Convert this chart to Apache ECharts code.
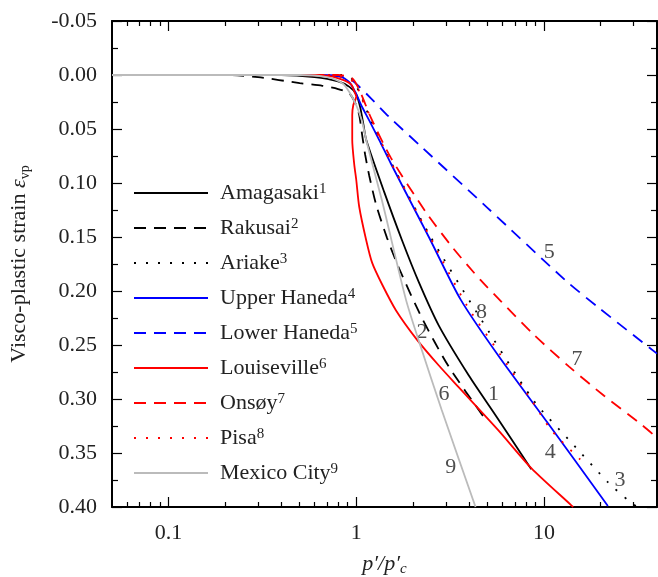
<!DOCTYPE html>
<html><head><meta charset="utf-8">
<script src="https://cdn.jsdelivr.net/npm/echarts@6/dist/echarts.min.js"></script>
<style>html,body{margin:0;padding:0;background:#fff}#c{width:658px;height:577px}</style>
</head><body><div id="c"></div>
<script>
// ---- data (x = p'/p'c, y = visco-plastic strain) ----
const seriesNames = ['Amagasaki','Rakusai','Ariake','Upper Haneda','Lower Haneda','Louiseville','Onsøy','Pisa','Mexico City'];
const seriesNumbers = ['1','2','3','4','5','6','7','8','9'];
const amagasaki = [[0.05,0],[0.4,0],[0.6,0.002],[0.8,0.006],[0.92,0.011],[1.0,0.018],[1.05,0.03],[1.09,0.045],[1.13,0.060],[1.407,0.108],[1.753,0.153],[2.157,0.192],[2.754,0.232],[3.97,0.278],[5.52,0.315],[8.56,0.365]];
const rakusai = [[0.05,0],[0.2,0],[0.3,0.002],[0.5,0.0075],[0.66,0.010],[0.8,0.013],[0.918,0.017],[0.988,0.026],[1.037,0.037],[1.076,0.056],[1.116,0.074],[1.172,0.093],[1.276,0.120],[1.46,0.151],[1.69,0.179],[2.238,0.225],[3.11,0.270],[4.886,0.319]];
const ariake = [[0.05,0],[0.843,0],[0.941,0.003],[1.012,0.012],[1.102,0.026],[1.172,0.039],[1.246,0.048],[1.357,0.063],[1.46,0.074],[2.436,0.147],[4.32,0.218],[8.77,0.301],[13.95,0.340],[21.9,0.377],[28.6,0.395],[31.4,0.40]];
const upperHaneda = [[0.05,0],[0.6,0],[0.813,0.001],[0.918,0.0065],[0.988,0.0157],[1.063,0.028],[1.172,0.042],[1.324,0.060],[1.533,0.0824],[2.436,0.150],[3.60,0.208],[5.72,0.260],[10.55,0.323],[21.9,0.399]];
const lowerHaneda = [[0.05,0],[0.6,0],[0.85,0.002],[0.95,0.005],[1.04,0.011],[1.22,0.023],[1.5,0.039],[2.24,0.067],[5,0.123],[13,0.190],[19.4,0.215],[40,0.258]];
const louiseville = [[0.05,0],[0.5,0],[0.719,0.001],[0.864,0.005],[0.941,0.009],[0.976,0.015],[1.0,0.020],[0.964,0.028],[0.952,0.037],[0.952,0.060],[0.976,0.083],[1.0,0.097],[1.037,0.122],[1.13,0.153],[1.216,0.174],[1.374,0.194],[1.629,0.218],[2.104,0.245],[2.754,0.269],[3.51,0.289],[5.72,0.329],[8.56,0.364],[13.9,0.398],[14.3,0.40]];
const onsoy = [[0.05,0],[0.8,0],[0.95,0.003],[1.04,0.014],[1.2,0.040],[1.533,0.077],[2.35,0.127],[3.27,0.160],[4.6,0.190],[5.94,0.210],[8.77,0.240],[13.6,0.270],[20.9,0.297],[33.2,0.324],[40,0.336]];
const pisa = [[0.05,0],[0.7,0],[0.9,0.003],[1.0,0.009],[1.07,0.022],[1.2,0.040],[1.324,0.058],[1.533,0.081],[2.436,0.148],[3.87,0.213],[5.5,0.252],[8.57,0.301],[10.96,0.329],[15.6,0.356]];
const mexicoCity = [[0.05,0],[0.5,0],[0.7,0.002],[0.85,0.008],[0.92,0.016],[1.0,0.028],[1.07,0.042],[1.14,0.063],[1.37,0.116],[1.84,0.208],[2.21,0.252],[2.85,0.310],[4.32,0.40]];
// curve number labels [x, y, text]
const curveLabels = [[5.38,0.296,'1'],[2.24,0.238,'2'],[25.4,0.375,'3'],[10.8,0.349,'4'],[10.67,0.164,'5'],[2.93,0.296,'6'],[15.0,0.263,'7'],[4.65,0.220,'8'],[3.19,0.363,'9']];
// axis ticks
const xMin = 0.05, xMax = 40;
const xMajorTicks = [0.1, 1, 10];
const xMinorTicks = [0.06,0.07,0.08,0.09,0.2,0.3,0.4,0.5,0.6,0.7,0.8,0.9,2,3,4,5,6,7,8,9,20,30];
const yMin = -0.05, yMax = 0.40, yInterval = 0.05;

const allData = [amagasaki, rakusai, ariake, upperHaneda, lowerHaneda, louiseville, onsoy, pisa, mexicoCity];
const colors = ['#000000','#000000','#000000','#0000ff','#0000ff','#ff0000','#ff0000','#ff0000','#bbbbbb'];
const dashes = ['solid',[12,8],[2,10],'solid',[12,8],'solid',[12,8],[2,10],'solid'];

const FONT = 'Liberation Serif';
const FS = 22;
const chart = echarts.init(document.getElementById('c'), null, {renderer:'canvas'});

function xAxisDef(pos, ticks, len, showLabel, showLine, extra) {
  return Object.assign({
    type:'log', logBase:10, min:xMin, max:xMax, position:pos,
    axisLine:{show:showLine, onZero:false, lineStyle:{color:'#000', width:2}},
    axisTick:{show:true, inside:true, length:len, customValues:ticks, lineStyle:{color:'#000', width:1.2}},
    axisLabel:{show:showLabel, customValues:ticks, margin:15, fontFamily:FONT, fontSize:FS, color:'#222', formatter: v => String(v)},
    splitLine:{show:false}, minorTick:{show:false}
  }, extra||{});
}
function yAxisDef(pos, showLabel, extra) {
  return Object.assign({
    type:'value', inverse:true, min:yMin, max:yMax, interval:yInterval, position:pos,
    axisLine:{show:true, onZero:false, lineStyle:{color:'#000', width:2}},
    axisTick:{show:true, inside:true, length:10, lineStyle:{color:'#000', width:1.2}},
    minorTick:{show:true, splitNumber:2, length:6, lineStyle:{color:'#000', width:1.2}},
    axisLabel:{show:showLabel, margin:15, fontFamily:FONT, fontSize:FS, color:'#222', formatter: v => v.toFixed(2)},
    splitLine:{show:false}
  }, extra||{});
}

const series = allData.map((d,i) => ({
  name: seriesNames[i], type:'line', data:d, xAxisIndex:0, yAxisIndex:0,
  symbol:'none', smooth:0.25, z: 3,
  lineStyle:{color:colors[i], width:1.8, type:dashes[i]},
  itemStyle:{color:colors[i]}
}));
series.push({
  type:'scatter', data:curveLabels, symbolSize:0, xAxisIndex:0, yAxisIndex:0, silent:true,
  label:{show:true, position:'inside', formatter: p => p.value[2], fontFamily:FONT, fontSize:FS, color:'#222'}
});

chart.setOption({
  backgroundColor:'#fff',
  animation:false,
  grid:{left:112, right:1, top:21, bottom:70, containLabel:false, outerBoundsMode:'none'},
  xAxis:[
    xAxisDef('bottom', xMajorTicks, 10, true, true, {
      name:'{i|p′/p′}{c|c}', nameLocation:'middle', nameGap:44,
      nameTextStyle:{fontFamily:FONT, fontSize:FS, color:'#222', rich:{
        i:{fontFamily:FONT, fontSize:FS, fontStyle:'italic', color:'#222', lineHeight:26, verticalAlign:'middle'},
        c:{fontFamily:FONT, fontSize:15, fontStyle:'italic', color:'#222', verticalAlign:'bottom', lineHeight:26}
      }}
    }),
    xAxisDef('bottom', xMinorTicks, 5, false, false),
    xAxisDef('top', xMajorTicks, 10, false, true),
    xAxisDef('top', xMinorTicks, 5, false, false)
  ],
  yAxis:[
    yAxisDef('left', true, {
      name:'Visco-plastic strain {e|ε}{s|vp}', nameLocation:'middle', nameGap:80,
      nameTextStyle:{fontFamily:FONT, fontSize:FS, color:'#222', rich:{
        e:{fontFamily:FONT, fontSize:FS, fontStyle:'italic', color:'#222', lineHeight:26},
        s:{fontFamily:FONT, fontSize:14, color:'#222', verticalAlign:'bottom', lineHeight:26}
      }}
    }),
    yAxisDef('right', false)
  ],
  legend:{
    data: seriesNames, orient:'vertical', left:133, top:182, padding:0,
    itemWidth:74, itemHeight:14, itemGap:13,
    itemStyle:{opacity:0},
    formatter: name => '{n|' + name + '}{s|' + seriesNumbers[seriesNames.indexOf(name)] + '}',
    textStyle:{fontFamily:FONT, fontSize:FS, color:'#222', rich:{
      n:{fontFamily:FONT, fontSize:FS, color:'#222', lineHeight:22, padding:[0,0,0,7]},
      s:{fontFamily:FONT, fontSize:15, color:'#222', verticalAlign:'top', lineHeight:22}
    }}
  },
  series: series
});
</script>
</body></html>
